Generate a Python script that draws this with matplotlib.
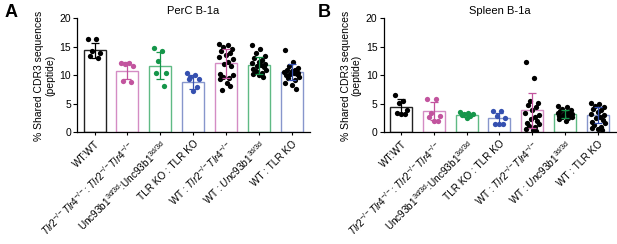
import matplotlib
matplotlib.use("Agg")
import matplotlib.pyplot as plt
import numpy as np

plt.rcParams['font.family'] = ['Liberation Sans', 'DejaVu Sans']
plt.rcParams['mathtext.fontset'] = 'custom'
plt.rcParams['mathtext.rm'] = 'Liberation Sans'
plt.rcParams['mathtext.it'] = 'Liberation Sans:italic'
plt.rcParams['mathtext.bf'] = 'Liberation Sans:bold'

categories = [
    "WT:WT",
    r"$\it{Tlr2}^{-/-}\it{Tlr4}^{-/-}$: $\it{Tlr2}^{-/-}\it{Tlr4}^{-/-}$",
    r"Unc93b1$^{\rm 3d/3d}$:Unc93b1$^{\rm 3d/3d}$",
    "TLR KO : TLR KO",
    r"WT : $\it{Tlr2}^{-/-}\it{Tlr4}^{-/-}$",
    r"WT : $\it{Unc93b1}^{\rm 3d/3d}$",
    "WT : TLR KO",
]

# Panel A: PerC B-1a
perc_means = [14.4, 10.8, 11.7, 8.9, 12.1, 11.8, 10.6]
perc_sd = [1.3, 1.5, 2.4, 1.2, 2.6, 1.5, 1.4]
perc_points = [
    [16.3, 16.4, 14.3, 14.0, 13.4, 13.1],
    [12.2, 12.1, 12.0, 11.6, 9.0, 8.9],
    [14.8, 14.2, 12.6, 10.4, 10.4, 8.2],
    [10.4, 10.0, 9.7, 9.4, 9.3, 7.9, 7.2],
    [15.5, 15.3, 15.0, 14.7, 14.3, 14.0, 13.6, 13.2, 12.8, 12.4, 12.0, 11.6,
     10.3, 10.0, 9.8, 9.6, 9.4, 8.7, 8.1, 7.4],
    [15.3, 14.6, 13.9, 13.4, 13.0, 12.7, 12.4, 12.2, 12.0, 11.8, 11.6, 11.4,
     11.2, 11.0, 10.8, 10.5, 10.3, 10.0, 9.8],
    [14.5, 12.4, 11.7, 11.3, 11.0, 10.9, 10.7, 10.6, 10.5, 10.4, 10.3, 10.2,
     10.0, 9.8, 9.5, 9.2, 8.7, 8.4, 7.6],
]

# Panel B: Spleen B-1a
spl_means = [4.5, 3.8, 3.1, 2.5, 3.9, 3.2, 3.0]
spl_sd = [1.3, 1.6, 0.35, 1.0, 3.1, 0.7, 1.4]
spl_points = [
    [6.6, 5.6, 5.2, 4.0, 3.4, 3.3, 3.2],
    [5.9, 5.9, 3.5, 2.9, 2.8, 2.1, 2.1],
    [3.6, 3.4, 3.3, 3.2, 3.1, 2.9, 2.5],
    [3.8, 3.7, 2.9, 2.6, 1.5, 1.5, 1.4],
    [12.3, 9.5, 5.6, 5.2, 4.8, 4.4, 4.0, 3.5, 3.1, 2.8, 2.4, 2.0, 1.7, 1.4,
     1.1, 0.9, 0.6, 0.4, 0.3],
    [4.6, 4.4, 4.2, 4.0, 3.8, 3.6, 3.5, 3.4, 3.3, 3.2, 3.1, 3.0, 2.9, 2.8,
     2.7, 2.5, 2.3, 2.1],
    [5.2, 5.0, 4.7, 4.4, 4.2, 3.9, 3.6, 3.3, 3.0, 2.7, 2.5, 2.2, 1.9, 1.6,
     1.3, 1.0, 0.8, 0.6, 0.5],
]

yticks = [0, 5, 10, 15, 20]

edge_colors = ["#222222", "#d48cc4", "#5fba84", "#8796cc", "#d48cc4", "#5fba84", "#8796cc"]
point_colors = ["black", "#c2549e", "#15964a", "#3550b0", "black", "black", "black"]
err_colors = ["black", "#c2549e", "#15964a", "#3550b0", "#c2549e", "#15964a", "#3550b0"]

offset_pattern = [-0.2, 0.05, -0.08, 0.18, -0.14, 0.11, 0.0, -0.22, 0.2, 0.07,
                  -0.05, 0.15, -0.17, 0.22, -0.1, 0.09, -0.19, 0.02, 0.13, -0.12]

fig = plt.figure(figsize=(6.17, 2.44), dpi=100)
axA = fig.add_axes([0.125, 0.457, 0.377, 0.468])
axB = fig.add_axes([0.622, 0.457, 0.376, 0.468])


def draw(ax, means, sds, points, title):
    x = np.arange(len(categories))
    ax.bar(x, means, width=0.67, facecolor="white", edgecolor=edge_colors,
           linewidth=1.0, zorder=1)
    for i in range(len(categories)):
        pts = points[i]
        offs = [offset_pattern[j % len(offset_pattern)] for j in range(len(pts))]
        ax.plot(x[i] + np.array(offs), pts, 'o', color=point_colors[i],
                markersize=3.8, markeredgewidth=0, zorder=3)
        ax.errorbar(x[i], means[i], yerr=sds[i], color=err_colors[i],
                    capsize=3, elinewidth=0.9, capthick=0.9, zorder=4)
    ax.set_ylim(0, 20)
    ax.set_xlim(-0.53, 6.55)
    ax.set_yticks(yticks)
    ax.set_xticks(x)
    ax.set_xticklabels(categories, rotation=45, ha="right",
                       rotation_mode="anchor", fontsize=7.2)
    ax.tick_params(axis='y', labelsize=7.5, length=3, width=0.8, pad=1.5)
    ax.tick_params(axis='x', length=2.5, width=0.8, pad=2)
    for s in ["top", "right"]:
        ax.spines[s].set_visible(False)
    for s in ["left", "bottom"]:
        ax.spines[s].set_linewidth(0.9)
    ax.set_ylabel("% Shared CDR3 sequences\n(peptide)", fontsize=7.5,
                  linespacing=1.1, labelpad=3)
    ax.set_title(title, fontsize=8, pad=3)


draw(axA, perc_means, perc_sd, perc_points, "PerC B-1a")
draw(axB, spl_means, spl_sd, spl_points, "Spleen B-1a")

fig.text(0.008, 0.985, "A", fontsize=13, fontweight="bold", va="top", ha="left")
fig.text(0.515, 0.985, "B", fontsize=13, fontweight="bold", va="top", ha="left")

fig.savefig("out.png", dpi=100)
